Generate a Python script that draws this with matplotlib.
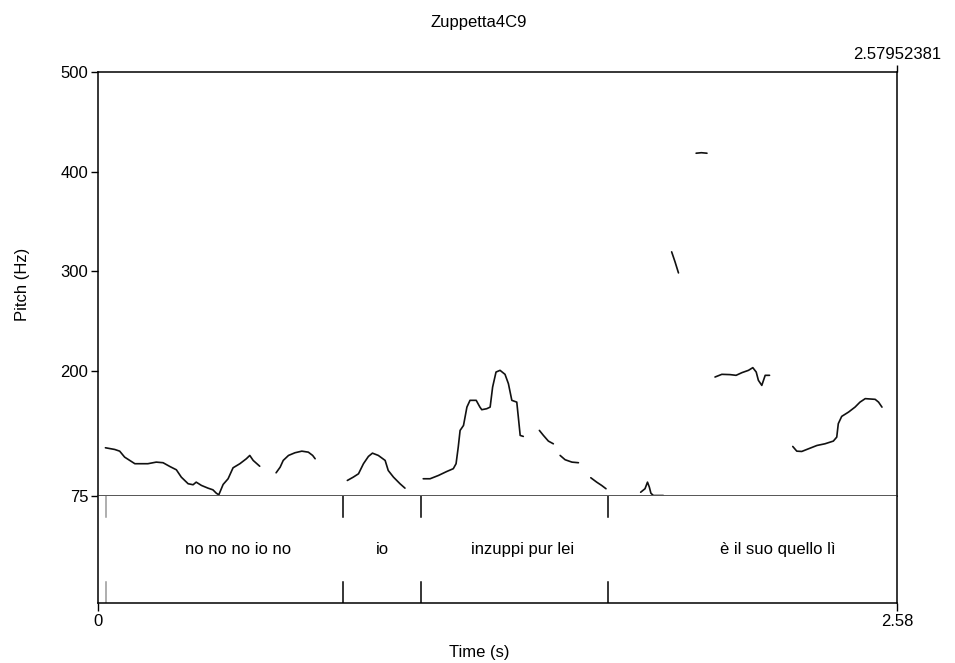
import matplotlib
matplotlib.use("Agg")
import matplotlib.pyplot as plt

# ---------------- data ----------------
title = "Zuppetta4C9"
t_end = 2.57952381
pitch_min, pitch_max = 75, 500
ytick_values = [75, 200, 300, 400, 500]

seg1_t = [0.024, 0.054, 0.070, 0.086, 0.119, 0.161, 0.188, 0.210, 0.232, 0.253, 0.269, 0.291, 0.307, 0.317, 0.334, 0.355, 0.371, 0.382, 0.390, 0.404, 0.420, 0.436, 0.458, 0.479, 0.490, 0.501, 0.522]
seg1_hz = [122.9, 121.2, 119.5, 113.5, 106.9, 106.9, 108.5, 107.9, 104.1, 100.8, 93.4, 86.8, 85.8, 88.4, 85.1, 82.4, 80.7, 77.3, 75.7, 86.1, 91.8, 102.8, 106.9, 111.9, 115.2, 110.2, 104.4]

seg2_t = [0.575, 0.588, 0.598, 0.615, 0.636, 0.658, 0.679, 0.693, 0.701]
seg2_hz = [97.8, 103.4, 110.2, 115.2, 117.9, 119.5, 118.5, 115.2, 111.9]

seg3_t = [0.805, 0.824, 0.841, 0.857, 0.873, 0.886, 0.905, 0.927, 0.937, 0.954, 0.975, 0.991]
seg3_hz = [90.1, 93.4, 96.8, 106.9, 114.2, 117.5, 115.2, 110.2, 100.1, 93.4, 86.8, 82.4]

seg4_t = [1.050, 1.072, 1.099, 1.126, 1.147, 1.156, 1.163, 1.169, 1.180, 1.191, 1.201, 1.221, 1.233, 1.239, 1.255, 1.266, 1.274, 1.285, 1.298, 1.314, 1.325, 1.336, 1.352, 1.357, 1.363, 1.373]
seg4_hz = [91.8, 91.8, 95.1, 99.1, 101.9, 106.9, 123.5, 140.3, 145.3, 163.7, 170.5, 170.5, 163.7, 161.1, 162.1, 163.7, 183.8, 198.9, 200.6, 196.6, 187.2, 170.5, 168.7, 153.7, 135.3, 134.3]

seg5_t = [1.425, 1.438, 1.454, 1.470]
seg5_hz = [140.3, 135.3, 129.6, 126.9]

seg6_t = [1.492, 1.508, 1.530, 1.551]
seg6_hz = [115.2, 110.9, 108.5, 107.9]

seg7_t = [1.591, 1.610, 1.626, 1.640]
seg7_hz = [92.8, 88.4, 85.1, 81.8]

seg8_t = [1.752, 1.766, 1.774, 1.780, 1.785, 1.793, 1.825]
seg8_hz = [78.3, 81.8, 88.4, 83.4, 77.3, 75.0, 75.0]

seg9_t = [1.852, 1.863, 1.874]
seg9_hz = [319.5, 309.4, 298.4]

seg10_t = [1.931, 1.948, 1.966]
seg10_hz = [418.5, 419.0, 418.5]

seg11_t = [1.992, 2.014, 2.041, 2.060, 2.079, 2.100, 2.114, 2.125, 2.132, 2.143, 2.154, 2.168]
seg11_hz = [193.9, 196.6, 196.3, 195.6, 198.3, 200.6, 203.3, 198.9, 190.6, 185.5, 195.6, 195.6]

seg12_t = [2.243, 2.256, 2.272, 2.294, 2.321, 2.347, 2.374, 2.385, 2.390, 2.401, 2.423, 2.444, 2.460, 2.477, 2.509, 2.520, 2.531]
seg12_hz = [124.2, 119.5, 119.2, 121.9, 125.2, 126.9, 129.6, 133.6, 147.1, 154.4, 158.7, 163.7, 168.7, 172.2, 171.5, 168.7, 163.7]

boundary_times = [0.026, 0.791, 1.043, 1.647]
interval_labels = ["no no no io no", "io", "inzuppi pur lei", "è il suo quello lì"]

# ---------------- layout ----------------
W, H = 955, 663
FONT = ["Liberation Sans", "DejaVu Sans"]
FS = 12
plt.rcParams['font.family'] = FONT
plt.rcParams['font.size'] = FS

fig = plt.figure(figsize=(W / 100, H / 100), dpi=100)

def fx(px):
    return px / W

def fy(py):
    return 1 - py / H

left_px, right_px = 98, 897
top_px, mid_px, bot_px = 72, 495.5, 603

ax = fig.add_axes([fx(left_px), fy(mid_px), fx(right_px) - fx(left_px), fy(top_px) - fy(mid_px)])
tg = fig.add_axes([fx(left_px), fy(bot_px), fx(right_px) - fx(left_px), fy(mid_px) - fy(bot_px)])

segments = [(seg1_t, seg1_hz), (seg2_t, seg2_hz), (seg3_t, seg3_hz), (seg4_t, seg4_hz),
            (seg5_t, seg5_hz), (seg6_t, seg6_hz), (seg7_t, seg7_hz), (seg8_t, seg8_hz),
            (seg9_t, seg9_hz), (seg10_t, seg10_hz), (seg11_t, seg11_hz), (seg12_t, seg12_hz)]
for t, hz in segments:
    ax.plot(t, hz, color="#111111", lw=1.2, solid_capstyle="round", solid_joinstyle="round")

ax.set_xlim(0, t_end)
ax.set_ylim(pitch_min, pitch_max)
ax.set_yticks(ytick_values)
ax.set_yticklabels([str(v) for v in ytick_values])
ax.xaxis.set_ticks_position("top")
ax.set_xticks([t_end])
ax.set_xticklabels(["%.8f" % t_end])
ax.tick_params(axis="both", direction="out", length=5, width=1, pad=2, labelsize=FS)
for s in ["left", "right", "top"]:
    ax.spines[s].set_linewidth(1.1)
ax.spines["bottom"].set_linewidth(1.4)
ax.spines["bottom"].set_color("#555555")

tg.set_xlim(0, t_end)
tg.set_ylim(0, 1)
tg.set_yticks([])
tg.set_xticks([0, t_end])
tg.set_xticklabels(["0", "2.58"])
tg.tick_params(axis="x", direction="out", length=6, width=1, pad=2, labelsize=FS)
tg.spines["top"].set_visible(False)
for s in ["left", "right", "bottom"]:
    tg.spines[s].set_linewidth(1.1)

for i, b in enumerate(boundary_times):
    col = "#999999" if i == 0 else "black"
    tg.plot([b, b], [1, 0.8], color=col, lw=1.1)
    tg.plot([b, b], [0.2, 0], color=col, lw=1.1)

ends = boundary_times[1:] + [t_end]
label_dx = [0.045, 0.0, 0.025, 0.08]
for lab, a, b, dx in zip(interval_labels, boundary_times, ends, label_dx):
    tg.text((a + b) / 2 + dx, 0.5, lab, ha="center", va="center", fontsize=FS)

fig.text(fx(479), fy(22), title, ha="center", va="center", fontsize=FS)
fig.text(fx(479), fy(653), "Time (s)", ha="center", va="center", fontsize=FS)
fig.text(fx(22), fy(284), "Pitch (Hz)", ha="center", va="center", rotation=90, fontsize=FS)

fig.savefig("out.png", dpi=100)
